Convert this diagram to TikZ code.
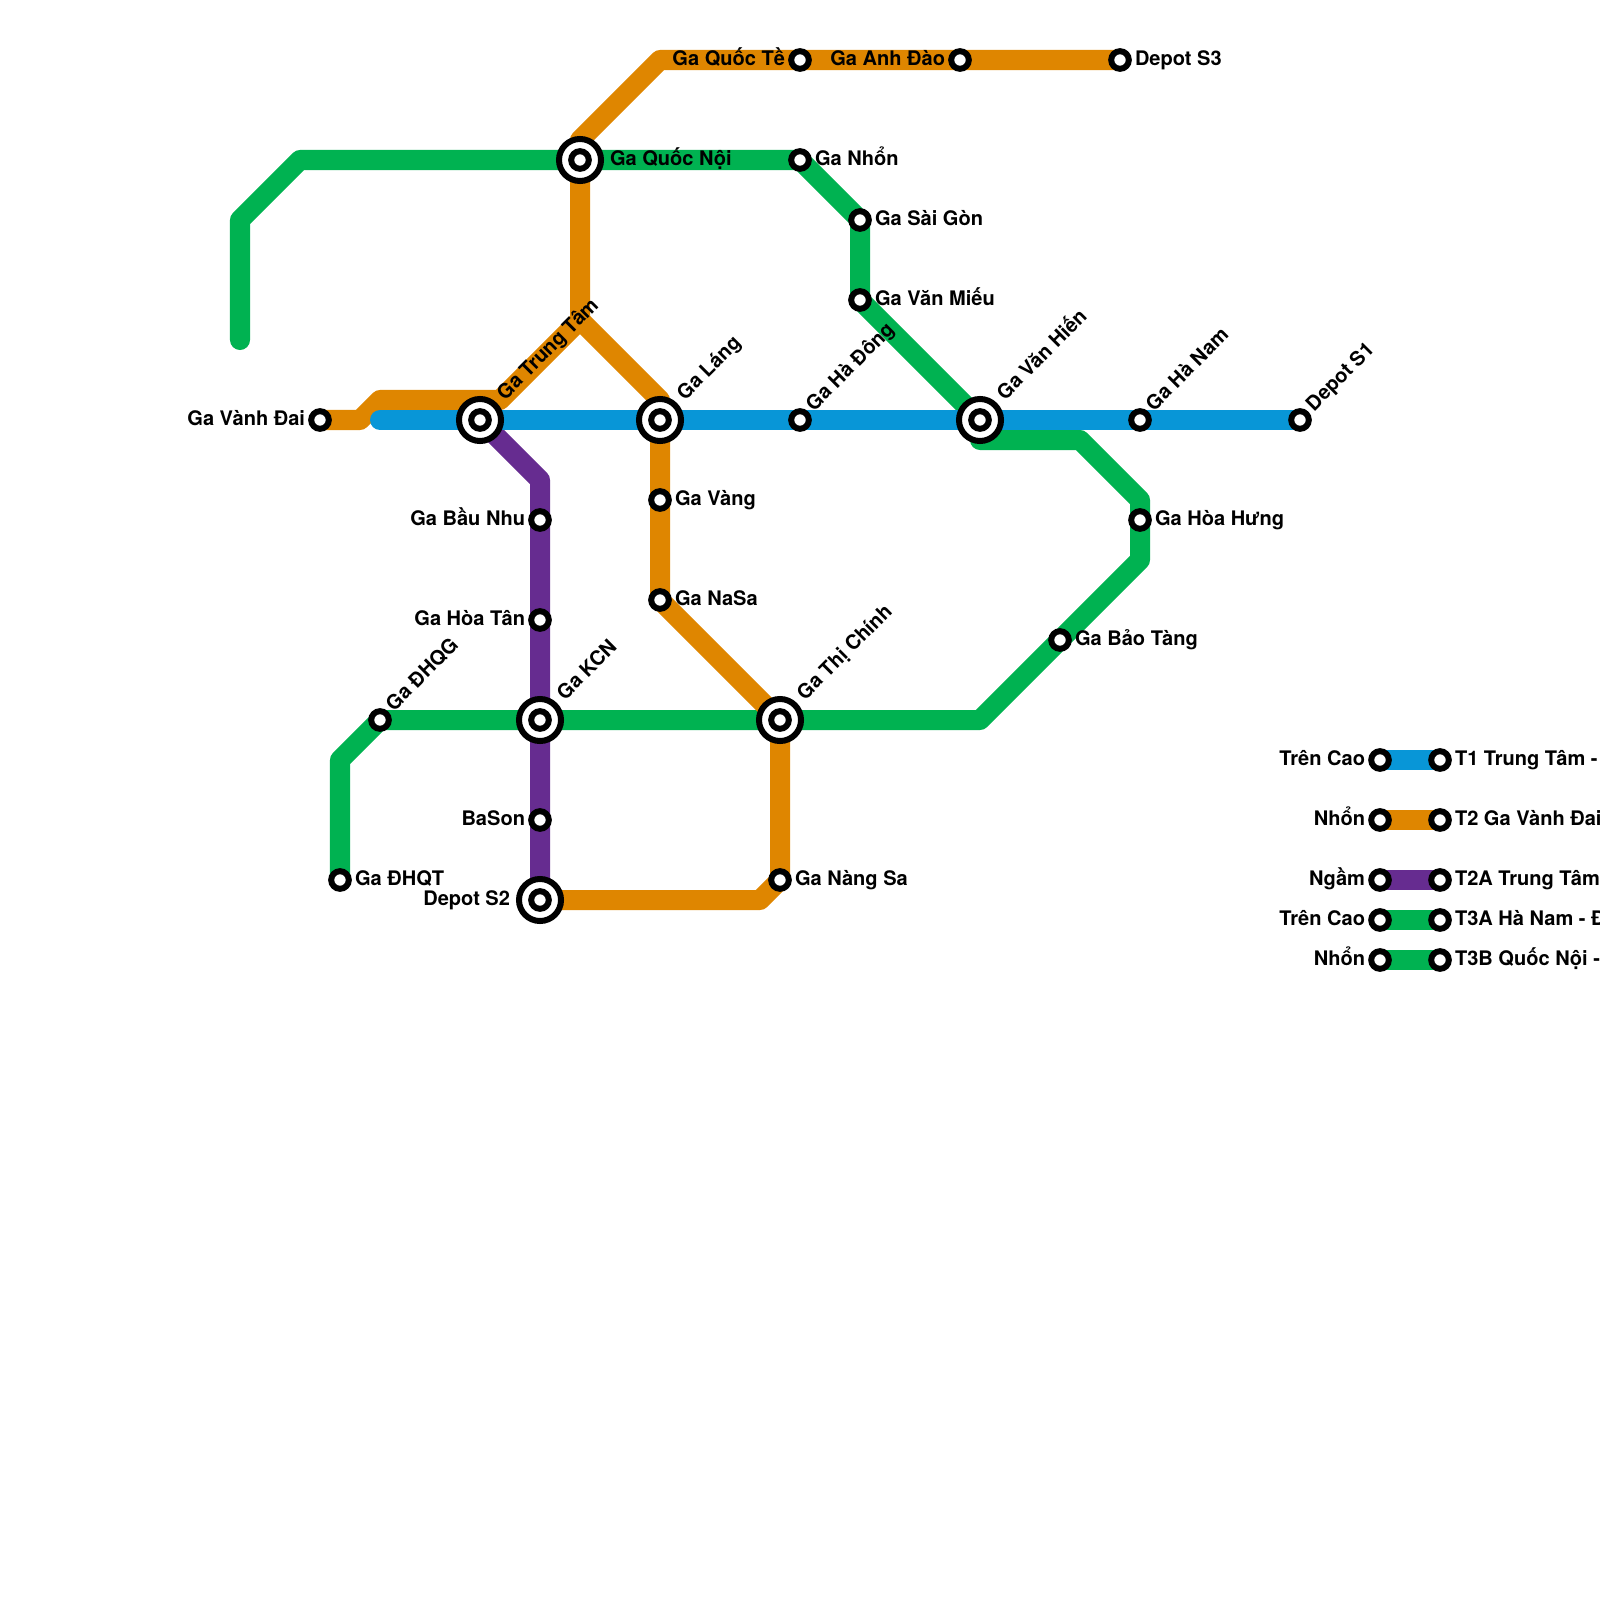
\documentclass[tikz,border=0pt]{standalone}
\usepackage{fontspec}
\setmainfont{TeX Gyre Heros}
\usetikzlibrary{backgrounds}
\definecolor{lblue}{HTML}{0896D7}
\definecolor{lorange}{HTML}{DF8600}
\definecolor{lpurple}{HTML}{662C90}
\definecolor{lgreen}{HTML}{00B251}
\tikzset{
  x=0.01cm,y=-0.01cm,
  metro/.style={line width=0.2cm,line join=round,line cap=round},
  bar/.style={line width=0.2cm,line cap=butt},
  smallst/.style={circle,draw=black,fill=white,line width=0.06cm,minimum size=0.176cm,inner sep=0pt,outer sep=0pt},
  bigst/.style={circle,draw=black,fill=white,line width=0.06cm,minimum size=0.42cm,inner sep=0pt,outer sep=0pt,
    path picture={\draw[line width=0.06cm] (path picture bounding box.center) circle (0.088cm);}},
  txt/.style={font=\bfseries\fontsize{5.7pt}{6.5pt}\selectfont,text=black,inner sep=0pt,outer sep=0pt},
  rl/.style={txt,anchor=base west},
  ll/.style={txt,anchor=base east},
  dl/.style={txt,anchor=base west,rotate=45},
}
\begin{document}
\begin{tikzpicture}
\useasboundingbox (0,0) rectangle (1600,1600);
% stations
\node[smallst] (vanhdai) at (320,420) {};
\node[bigst] (trungtam) at (480,420) {};
\node[bigst] (lang) at (660,420) {};
\node[smallst] (hadong) at (800,420) {};
\node[bigst] (vanhien) at (980,420) {};
\node[smallst] (hanam) at (1140,420) {};
\node[smallst] (depots1) at (1300,420) {};
\node[bigst] (quocnoi) at (580,160) {};
\node[smallst] (nhon) at (800,160) {};
\node[smallst] (saigon) at (860,220) {};
\node[smallst] (vanmieu) at (860,300) {};
\node[smallst] (quocte) at (800,60) {};
\node[smallst] (anhdao) at (960,60) {};
\node[smallst] (depots3) at (1120,60) {};
\node[smallst] (vang) at (660,500) {};
\node[smallst] (nasa) at (660,600) {};
\node[bigst] (thichinh) at (780,720) {};
\node[smallst] (nangsa) at (780,880) {};
\node[smallst] (baunhu) at (540,520) {};
\node[smallst] (hoatan) at (540,620) {};
\node[bigst] (kcn) at (540,720) {};
\node[smallst] (bason) at (540,820) {};
\node[bigst] (depots2) at (540,900) {};
\node[smallst] (dhqg) at (380,720) {};
\node[smallst] (dhqt) at (340,880) {};
\node[smallst] (hoahung) at (1140,520) {};
\node[smallst] (baotang) at (1060,640) {};
% legend stations
\node[smallst] (la1) at (1380,760) {};
\node[smallst] (lb1) at (1440,760) {};
\node[smallst] (la2) at (1380,820) {};
\node[smallst] (lb2) at (1440,820) {};
\node[smallst] (la3) at (1380,880) {};
\node[smallst] (lb3) at (1440,880) {};
\node[smallst] (la4) at (1380,920) {};
\node[smallst] (lb4) at (1440,920) {};
\node[smallst] (la5) at (1380,960) {};
\node[smallst] (lb5) at (1440,960) {};
% bends
\coordinate (g1) at (240,340);
\coordinate (g2) at (240,220);
\coordinate (g3) at (300,160);
\coordinate (g4) at (980,440);
\coordinate (g5) at (1080,440);
\coordinate (g6) at (1140,500);
\coordinate (g7) at (1140,560);
\coordinate (g8) at (980,720);
\coordinate (g9) at (340,760);
\coordinate (o1) at (360,420);
\coordinate (o2) at (380,400);
\coordinate (o3) at (500,400);
\coordinate (o4) at (580,320);
\coordinate (o5) at (580,140);
\coordinate (o6) at (660,60);
\coordinate (o7) at (760,900);
\coordinate (o8) at (660,400);
\coordinate (p1) at (540,480);
\coordinate (b1) at (380,420);
% lines
\begin{pgfonlayer}{background}
\draw[metro,lgreen] (g1) -- (g2) -- (g3) -- (quocnoi.center) -- (nhon.center) -- (saigon.center) -- (vanmieu.center) -- (vanhien.center);
\draw[metro,lgreen] (vanhien.center) -- (g4) -- (g5) -- (g6) -- (hoahung.center) -- (g7) -- (baotang.center) -- (g8) -- (thichinh.center) -- (kcn.center) -- (dhqg.center) -- (g9) -- (dhqt.center);
\draw[metro,lorange] (vanhdai.center) -- (o1) -- (o2) -- (o3) -- (o4) -- (quocnoi.center) -- (o5) -- (o6) -- (quocte.center) -- (anhdao.center) -- (depots3.center);
\draw[metro,lorange] (o4) -- (o8) -- (lang.center) -- (vang.center) -- (nasa.center) -- (thichinh.center) -- (nangsa.center) -- (o7) -- (depots2.center);
\draw[metro,lpurple] (trungtam.center) -- (p1) -- (baunhu.center) -- (hoatan.center) -- (kcn.center) -- (bason.center) -- (depots2.center);
\draw[metro,lblue] (b1) -- (trungtam.center) -- (lang.center) -- (hadong.center) -- (vanhien.center) -- (hanam.center) -- (depots1.center);
\draw[bar,lblue] (la1.center) -- (lb1.center);
\draw[bar,lorange] (la2.center) -- (lb2.center);
\draw[bar,lpurple] (la3.center) -- (lb3.center);
\draw[bar,lgreen] (la4.center) -- (lb4.center);
\draw[bar,lgreen] (la5.center) -- (lb5.center);
\end{pgfonlayer}
% labels
\node[ll] (t1) at (305,425.5) {Ga Vành Đai};
\node[dl] (t2) at (505,401) {Ga Trung Tâm};
\node[dl] (t3) at (685,401) {Ga Láng};
\node[dl] (t4) at (814,412) {Ga Hà Đông};
\node[dl] (t5) at (1005,401) {Ga Văn Hiến};
\node[dl] (t6) at (1154,412) {Ga Hà Nam};
\node[dl] (t7) at (1314,412) {Depot S1};
\node[rl] (t8) at (610,165.5) {Ga Quốc Nội};
\node[rl] (t9) at (815,165.5) {Ga Nhổn};
\node[rl] (t10) at (875,225.5) {Ga Sài Gòn};
\node[rl] (t11) at (875,305.5) {Ga Văn Miếu};
\node[ll] (t12) at (785,65.5) {Ga Quốc Tề};
\node[ll] (t13) at (945,65.5) {Ga Anh Đào};
\node[rl] (t14) at (1135,65.5) {Depot S3};
\node[rl] (t15) at (675,505.5) {Ga Vàng};
\node[rl] (t16) at (675,605.5) {Ga NaSa};
\node[dl] (t17) at (805,701) {Ga Thị Chính};
\node[rl] (t18) at (795,885.5) {Ga Nàng Sa};
\node[ll] (t19) at (525,525.5) {Ga Bầu Nhu};
\node[ll] (t20) at (525,625.5) {Ga Hòa Tân};
\node[dl] (t21) at (565,701) {Ga KCN};
\node[ll] (t22) at (525,825.5) {BaSon};
\node[ll] (t23) at (510,905.5) {Depot S2};
\node[dl] (t24) at (394,712) {Ga ĐHQG};
\node[rl] (t25) at (355,885.5) {Ga ĐHQT};
\node[rl] (t26) at (1155,525.5) {Ga Hòa Hưng};
\node[rl] (t27) at (1075,645.5) {Ga Bảo Tàng};
% legend labels
\node[ll] (l1) at (1365,765.5) {Trên Cao};
\node[ll] (l2) at (1365,825.5) {Nhổn};
\node[ll] (l3) at (1365,885.5) {Ngầm};
\node[ll] (l4) at (1365,925.5) {Trên Cao};
\node[ll] (l5) at (1365,965.5) {Nhổn};
\node[rl] (r1) at (1455,765.5) {T1 Trung Tâm -};
\node[rl] (r2) at (1455,825.5) {T2 Ga Vành Đai};
\node[rl] (r3) at (1455,885.5) {T2A Trung Tâm};
\node[rl] (r4) at (1455,925.5) {T3A Hà Nam - Đ};
\node[rl] (r5) at (1455,965.5) {T3B Quốc Nội -};
\end{tikzpicture}
\end{document}
